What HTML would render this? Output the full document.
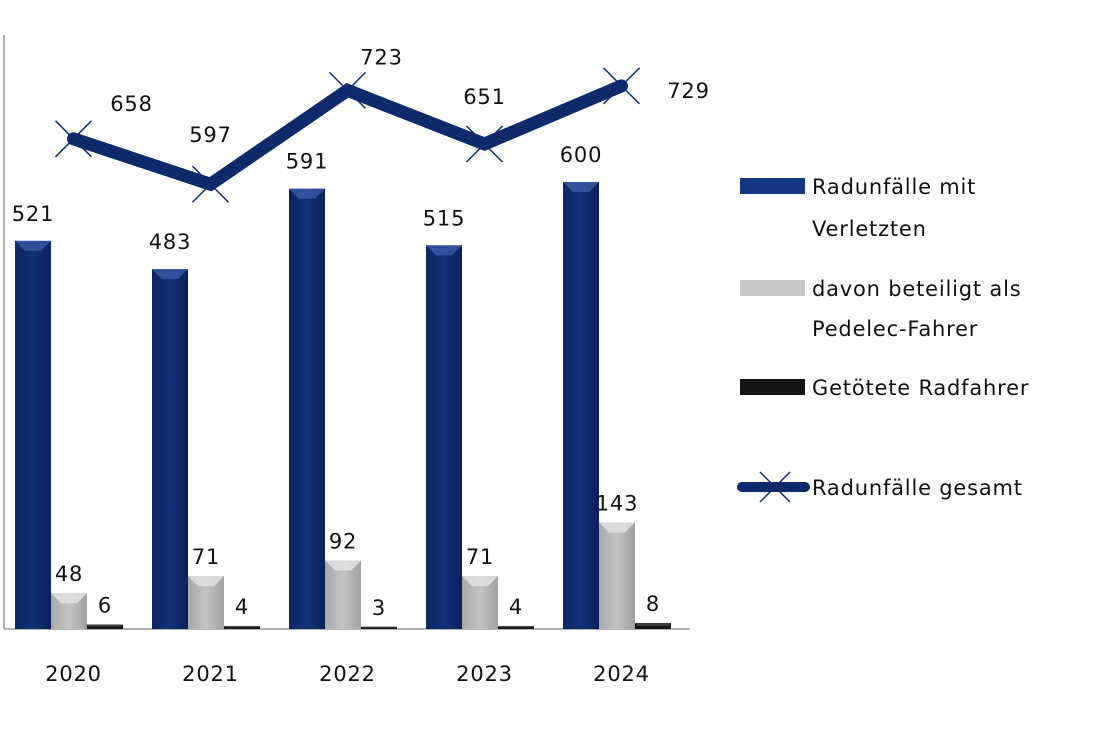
<!DOCTYPE html>
<html><head><meta charset="utf-8"><style>
body{margin:0;background:#fff;}
svg text{font-family:"DejaVu Sans","Liberation Sans",sans-serif;fill:#111;letter-spacing:0.8px;}
</style></head><body>
<svg width="1095" height="730" viewBox="0 0 1095 730">
<defs>
<linearGradient id="gb" x1="0" x2="1"><stop offset="0" stop-color="#0d2660"/><stop offset="0.5" stop-color="#12307a"/><stop offset="1" stop-color="#0b2158"/></linearGradient>
<linearGradient id="gg" x1="0" x2="1"><stop offset="0" stop-color="#a8a8a8"/><stop offset="0.5" stop-color="#c4c4c4"/><stop offset="1" stop-color="#a0a0a0"/></linearGradient>
</defs>
<g id="plot"></g>
<g id="legend">
<rect x="740" y="178" width="65" height="16" fill="#163682"/>
<text x="812" y="194" font-size="21">Radunfälle mit</text>
<text x="812" y="236" font-size="21">Verletzten</text>
<rect x="740" y="280" width="65" height="16" fill="#c8c8c8"/>
<text x="812" y="296" font-size="21">davon beteiligt als</text>
<text x="812" y="336" font-size="21">Pedelec-Fahrer</text>
<rect x="740" y="379" width="65" height="16" fill="#151515"/>
<text x="812" y="395" font-size="21">Getötete Radfahrer</text>
<line x1="742" y1="487" x2="805" y2="487" stroke="#0f2a6b" stroke-width="10" stroke-linecap="round"/>
<line x1="760" y1="472" x2="790" y2="502" stroke="#0f2a6b" stroke-width="1.5"/>
<line x1="760" y1="502" x2="790" y2="472" stroke="#0f2a6b" stroke-width="1.5"/>
<text x="812" y="495" font-size="21">Radunfälle gesamt</text>
</g>
</svg>
<script>
const years=["2020","2021","2022","2023","2024"];
const injured=[521,483,591,515,600];
const pedelec=[48,71,92,71,143];
const killed=[6,4,3,4,8];
const total=[658,597,723,651,729];
const NS="http://www.w3.org/2000/svg";
const g=document.getElementById('plot');
const base=629, k=0.745, x0=5, cw=137;
const y=v=>base-v*k;
const cx=i=>x0+cw*i+cw/2;
function mk(t,a){const e=document.createElementNS(NS,t);for(const n in a)e.setAttribute(n,a[n]);g.appendChild(e);return e;}
const ax=mk('line',{x1:4,y1:35,x2:4,y2:base,stroke:'#999','stroke-width':1.5});


const bx=mk('line',{x1:4,y1:base,x2:690,y2:base,stroke:'#999','stroke-width':1.5});


const series=[[injured,'url(#gb)','#3a5aa8','injured'],[pedelec,'url(#gg)','#e4e4e4','pedelec'],[killed,'#151515','#444','killed']];
years.forEach((yr,i)=>{
  const gx=x0+cw*i+10;
  series.forEach((s,j)=>{
    const v=s[0][i],bxl=gx+j*36,w=36,top=y(v),h=base-top;
    const r=mk('rect',{x:bxl,y:top,width:w,height:h,fill:s[1]});
    
    
    const b=Math.min(10,h/2);
    mk('polygon',{points:`${bxl},${top} ${bxl+w},${top} ${bxl+w-b},${top+b} ${bxl+b},${top+b}`,fill:s[2],opacity:0.8});
    const t=mk('text',{x:bxl+18,y:top-(j==0?20:12),'font-size':21,'text-anchor':'middle'});
    t.textContent=v;
    
    
  });
  const xl=mk('text',{x:cx(i),y:681,'font-size':21,'text-anchor':'middle'});
  xl.textContent=yr;
  
  
});
const pts=total.map((v,i)=>cx(i)+','+y(v)).join(' ');
const pl=mk('polyline',{points:pts,fill:'none',stroke:'#0f2a6b','stroke-width':13,'stroke-linejoin':'miter','stroke-linecap':'round'});


const ldx=[58,0,34,0,67], ldy=[-28,-42,-26,-40,12];
total.forEach((v,i)=>{
  const px=cx(i),py=y(v);
  mk('line',{x1:px-18,y1:py-18,x2:px+18,y2:py+18,stroke:'#0f2a6b','stroke-width':1.5});
  mk('line',{x1:px-18,y1:py+18,x2:px+18,y2:py-18,stroke:'#0f2a6b','stroke-width':1.5});
  const t=mk('text',{x:px+ldx[i],y:py+ldy[i],'font-size':21,'text-anchor':'middle'});
  t.textContent=v;
  
  
});
</script>
</body></html>
